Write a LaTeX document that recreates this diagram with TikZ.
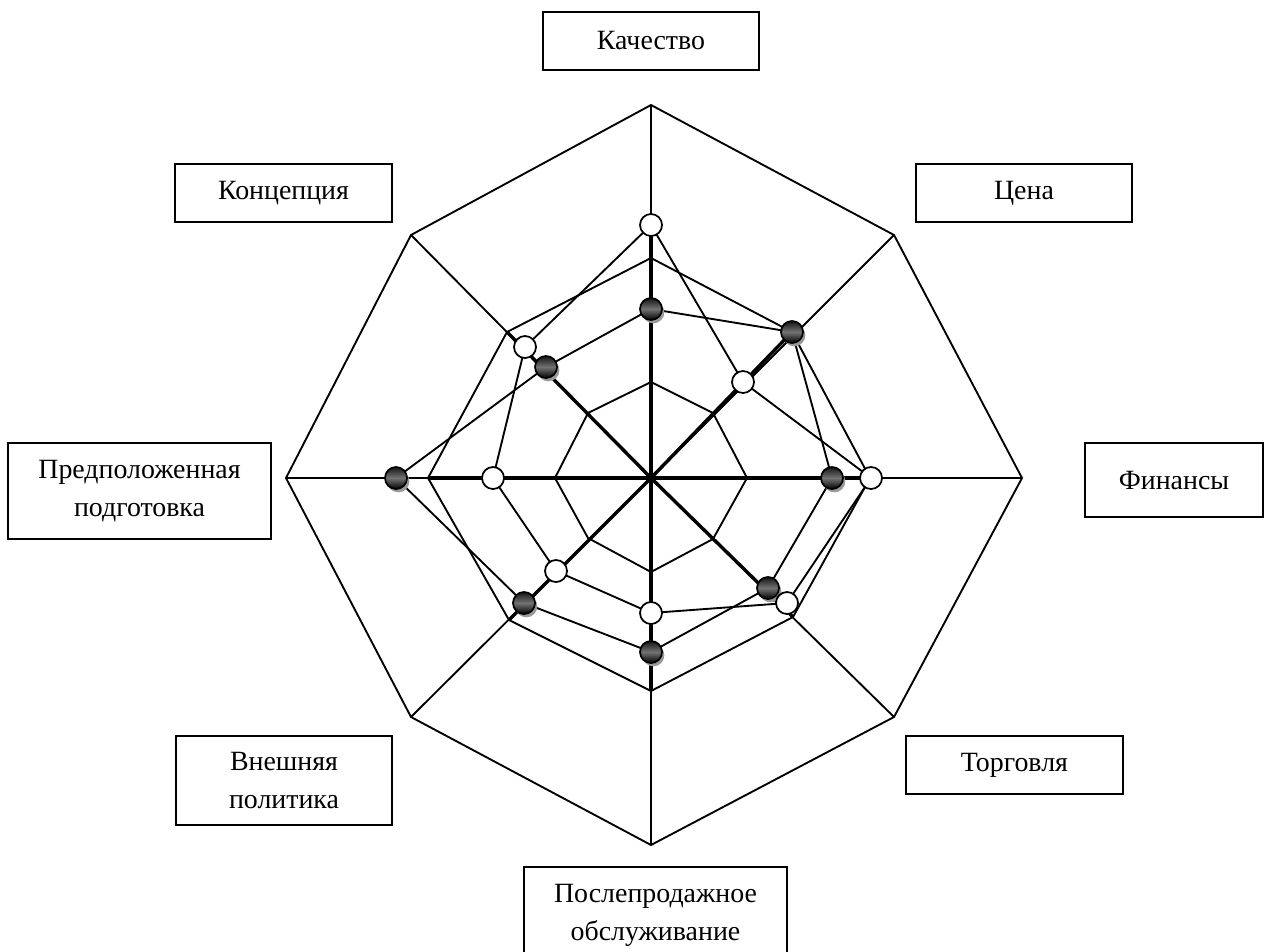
\documentclass[tikz,border=0pt]{standalone}
\usepackage{fontspec}
\setmainfont{Liberation Serif}
\usetikzlibrary{shadows}
\begin{document}
\begin{tikzpicture}[x=0.03cm,y=-0.03cm,
  ring/.style={line width=1.6pt, line join=miter},
  spoke/.style={line width=1.6pt},
  thickspoke/.style={line width=2.9pt},
  series/.style={line width=1.6pt, line join=round},
  lbl/.style={draw, line width=1.6pt, fill=white, font=\fontsize{23.8}{32.4}\selectfont, align=center, inner sep=0pt},
  wdot/.style={circle, draw, fill=white, line width=1.5pt, minimum size=0.66cm, inner sep=0pt},
  ddot/.style={circle, draw, line width=1.5pt, minimum size=0.66cm, inner sep=0pt,
    top color=black!92, bottom color=black, middle color=black!55,
    drop shadow={shadow xshift=0.07cm, shadow yshift=-0.1cm, fill=black!40, opacity=1}}
]
\useasboundingbox (0,0) rectangle (1265,951);
\clip (0,0) rectangle (1265,951);

\coordinate (c) at (651,478);
% outer ring
\coordinate (O1) at (651,105);
\coordinate (O2) at (894,235);
\coordinate (O3) at (1022,478);
\coordinate (O4) at (894,717);
\coordinate (O5) at (651,845);
\coordinate (O6) at (411,717);
\coordinate (O7) at (286,478);
\coordinate (O8) at (411,235);
% middle ring
\coordinate (M1) at (651,258);
\coordinate (M2) at (792,332);
\coordinate (M3) at (870,478);
\coordinate (M4) at (793,617);
\coordinate (M5) at (651,691);
\coordinate (M6) at (509,620);
\coordinate (M7) at (428,478);
\coordinate (M8) at (507,332);
% inner ring
\coordinate (I1) at (651,382);
\coordinate (I2) at (713,413);
\coordinate (I3) at (747,478);
\coordinate (I4) at (713,539);
\coordinate (I5) at (651,572);
\coordinate (I6) at (588,538);
\coordinate (I7) at (555,478);
\coordinate (I8) at (588,413);
% dark series
\coordinate (D1) at (651,309);
\coordinate (D2) at (792,332);
\coordinate (D3) at (832,478);
\coordinate (D4) at (768,588);
\coordinate (D5) at (651,652);
\coordinate (D6) at (524,603);
\coordinate (D7) at (396,478);
\coordinate (D8) at (546,367);
% white series
\coordinate (W1) at (651,225);
\coordinate (W2) at (743,382);
\coordinate (W3) at (871,478);
\coordinate (W4) at (787,603);
\coordinate (W5) at (651,613);
\coordinate (W6) at (556,571);
\coordinate (W7) at (493,478);
\coordinate (W8) at (525,347);

% rings
\draw[ring] (O1)--(O2)--(O3)--(O4)--(O5)--(O6)--(O7)--(O8)--cycle;
\draw[ring] (M1)--(M2)--(M3)--(M4)--(M5)--(M6)--(M7)--(M8)--cycle;
\draw[ring] (I1)--(I2)--(I3)--(I4)--(I5)--(I6)--(I7)--(I8)--cycle;
% spokes
\foreach \k in {1,...,8} \draw[spoke] (c)--(O\k);
\draw[thickspoke] (c)--(W1);
\foreach \k in {2,...,8} \draw[thickspoke] (c)--(M\k);
% series polygons
\draw[series] (D1)--(D2)--(D3)--(D4)--(D5)--(D6)--(D7)--(D8)--cycle;
\draw[series] (W1)--(W2)--(W3)--(W4)--(W5)--(W6)--(W7)--(W8)--cycle;
% dots
\foreach \k in {1,...,8} \node[ddot] (d\k) at (D\k) {};
\foreach \k in {1,...,8} \node[wdot] (w\k) at (W\k) {};

% labels
\node[lbl, minimum width=6.48cm, minimum height=1.74cm] (kach) at (651,41) {Качество};
\node[lbl, minimum width=6.51cm, minimum height=1.74cm] (konc) at (283.5,193) {Концепция};
\node[lbl, minimum width=6.48cm, minimum height=1.74cm] (cena) at (1024,193) {Цена};
\node[lbl, minimum width=7.89cm, minimum height=2.88cm] (pred) at (139.5,491) {Предположенная\\подготовка};
\node[lbl, minimum width=5.34cm, minimum height=2.22cm] (fin) at (1174,480) {Финансы};
\node[lbl, minimum width=6.48cm, minimum height=2.67cm] (vnesh) at (284,780.5) {Внешняя\\политика};
\node[lbl, minimum width=6.51cm, minimum height=1.74cm] (torg) at (1014.5,765) {Торговля};
\node[lbl, minimum width=7.89cm, minimum height=2.88cm] (posl) at (655.5,915) {Послепродажное\\обслуживание};
\end{tikzpicture}
\end{document}
